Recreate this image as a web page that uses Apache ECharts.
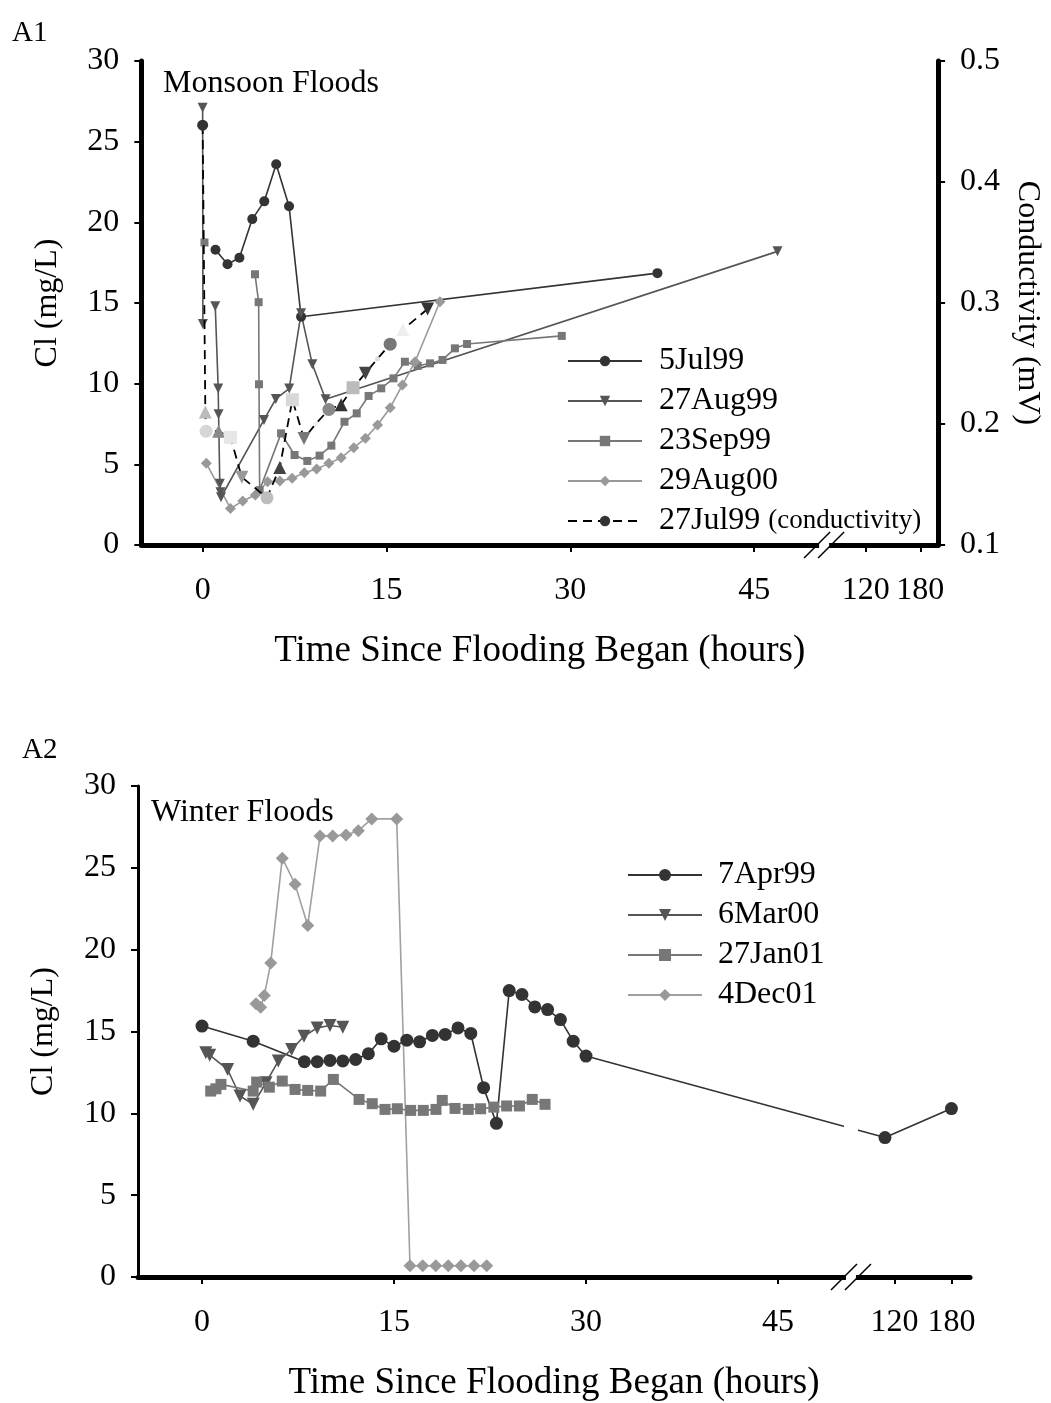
<!DOCTYPE html>
<html><head><meta charset="utf-8">
<script src="https://cdn.jsdelivr.net/npm/echarts@6/dist/echarts.min.js"></script>
<style>html,body{margin:0;padding:0;background:#fff}#c{width:1051px;height:1403px}</style>
</head><body><div id="c"></div>
<script>
// ================= DATA =================
// x tick labels (hours); the axis is broken between 45 and 120 hours
const xTickHours = [0, 15, 30, 45, 120, 180];

// ---- A1 : Monsoon floods (Cl, mg/L) ----
const jul5Hours  = [1.05, 2.03, 3.0, 4.05, 5.03, 6.0, 7.05, 8.03, 37.1];
const jul5Cl     = [18.3, 17.4, 17.8, 20.2, 21.3, 23.6, 21.0, 14.15, 16.85];

const aug27Hours = [0, 0.02, null, 1.03, 1.27, 1.3, 1.4, 1.45, 1.5, 5.0, 5.97, 7.06, 8.03, 8.95, 10.03, 46.9];
const aug27Cl    = [27.1, 13.7, null, 14.8, 9.7, 8.1, 3.8, 3.27, 2.96, 7.75, 9.05, 9.7, 14.36, 11.2, 9.03, 18.2];

const sep23Hours = [0.15, null, 4.27, 4.57, 4.6, 4.65, 6.4, 7.5, 8.54, 9.54, 10.5, 11.57, 12.57, 13.54, 14.57, 15.57, 16.5, 17.54, 18.55, 19.57, 20.58, 21.57, 29.3];
const sep23Cl    = [18.75, null, 16.78, 15.05, 9.96, 3.4, 6.92, 5.58, 5.21, 5.54, 6.16, 7.64, 8.16, 9.24, 9.71, 10.33, 11.36, 11.1, 11.26, 11.47, 12.19, 12.46, 12.96];

const aug29Hours = [0.3, 2.27, 3.27, 4.3, 5.3, 6.3, 7.3, 8.3, 9.3, 10.3, 11.3, 12.33, 13.28, 14.27, 15.3, 16.3, 17.33, 19.36];
const aug29Cl    = [5.06, 2.27, 2.73, 3.1, 3.92, 3.97, 4.13, 4.48, 4.71, 5.06, 5.41, 6.03, 6.61, 7.44, 8.51, 9.92, 11.36, 15.08];

// 27Jul99 conductivity (mV), right axis
const condHours = [0, 0.22, 0.28, 1.3, 2.27, 3.2, 5.25, 6.29, 7.32, 8.27, 9.22, 10.3, 11.3, 12.27, 13.28, 14.27, 15.3, 16.33, 18.35];
const condMV    = [0.447, 0.210, 0.194, 0.194, 0.189, 0.156, 0.139, 0.164, 0.220, 0.188, 0.200, 0.212, 0.216, 0.230, 0.242, 0.254, 0.266, 0.278, 0.295];

// ---- A2 : Winter floods (Cl, mg/L) ----
const apr7Hours = [0, 4, 8, 9, 10, 11, 12, 13, 14, 15, 16, 17, 18, 19, 20, 21, 22, 23, 24, 25, 26, 27, 28, 29, 30, 110, 180];
const apr7Cl    = [15.33, 14.41, 13.15, 13.15, 13.23, 13.2, 13.29, 13.64, 14.55, 14.1, 14.47, 14.37, 14.76, 14.82, 15.22, 14.88, 11.57, 9.39, 17.5, 17.26, 16.5, 16.34, 15.73, 14.41, 13.5, 8.52, 10.29];

const mar6Hours = [0.3, 0.6, 2.0, 2.97, 4.0, 5.0, 5.96, 7.0, 7.97, 9.0, 10.0, 11.0];
const mar6Cl    = [13.7, 13.55, 12.68, 11.06, 10.55, 11.87, 13.19, 13.9, 14.71, 15.22, 15.37, 15.26];

const jan27Hours = [0.68, 1.09, 1.48, 4.0, 4.27, 5.26, 6.27, 7.27, 8.26, 9.27, 10.26, 12.27, 13.3, 14.3, 15.26, 16.3, 17.29, 18.28, 18.77, 19.77, 20.8, 21.77, 22.8, 23.8, 24.8, 25.8, 26.8];
const jan27Cl    = [11.36, 11.5, 11.77, 11.36, 11.91, 11.6, 11.97, 11.46, 11.4, 11.36, 12.07, 10.85, 10.59, 10.24, 10.28, 10.18, 10.18, 10.24, 10.79, 10.3, 10.24, 10.28, 10.38, 10.45, 10.45, 10.85, 10.55];

const dec4Hours = [4.22, 4.58, 4.87, 5.37, 6.27, 7.27, 8.26, 9.22, 10.21, 11.25, 12.21, 13.26, 15.21, 16.25, 17.24, 18.26, 19.24, 20.23, 21.25, 22.24];
const dec4Cl    = [16.7, 16.48, 17.2, 19.19, 25.59, 24.0, 21.48, 26.95, 26.95, 27.01, 27.27, 27.99, 27.99, 0.69, 0.69, 0.69, 0.69, 0.69, 0.69, 0.69];

// ================= STYLE =================
const FONT = '"Liberation Serif","Times New Roman",serif';
// marker look of each conductivity point (Excel varied them point by point)
const condSymbols = ['circle','triangle','circle','triangle','rect','tridown','circle','triangle','rect','tridown','dot','circle','triangle','rect','tridown','dot','circle','triangle','tridown'];
const condColors  = ['#333','#bbb','#d6d6d6','#8a8a8a','#e6e6e6','#999','#bdbdbd','#444','#d8d8d8','#777','#eee','#888','#333','#bbb','#444','#ddd','#777','#eee','#333'];

// broken axis scale: linear up to 50 h, compressed after
const BREAK_END_LINEAR = 50, U120 = 54.1, U_PER_H_LATE = 4.45 / 60, BREAK_U = 50.7;
function toU(h){ return h <= BREAK_END_LINEAR ? h : U120 + (h - 120) * U_PER_H_LATE; }
const xTickU = xTickHours.map(toU);
function xLabel(v){ for (let i = 0; i < xTickU.length; i++) if (Math.abs(xTickU[i]-v) < 1e-6) return String(xTickHours[i]); return ''; }
function pts(hs, vs){ return hs.map((h, i) => h === null ? null : [toU(h), vs[i]]); }

function xAxisCfg(gi, gap){
  return {type:'value', gridIndex:gi, min:-5, max:60,
    axisLine:{show:true, onZero:false, lineStyle:{color:'#000', width:5}},
    axisTick:{show:true, customValues:xTickU, length:7, lineStyle:{color:'#000', width:2}},
    axisLabel:{show:true, customValues:xTickU, formatter:xLabel, fontSize:32, color:'#000', fontFamily:FONT, margin:30},
    splitLine:{show:false},
    name:'Time Since Flooding Began (hours)', nameLocation:'middle', nameGap:gap,
    nameTextStyle:{fontSize:37, fontFamily:FONT, color:'#000'}};
}
function yAxisCfg(gi, lw){
  return {type:'value', gridIndex:gi, min:0, max:30, interval:5,
    axisLine:{show:true, onZero:false, lineStyle:{color:'#000', width:lw}},
    axisTick:{show:true, length:7, lineStyle:{color:'#000', width:2}},
    axisLabel:{fontSize:32, color:'#000', fontFamily:FONT, margin:22},
    splitLine:{show:false},
    name:'Cl (mg/L)', nameLocation:'middle', nameGap:78, nameRotate:90,
    nameTextStyle:{fontSize:32, fontFamily:FONT, color:'#000'}};
}
function lineSeries(name, data, gi, color, lineColor, symbol, size){
  const rot = symbol === 'tridown' ? 180 : 0;
  return {type:'line', name, data, xAxisIndex:gi, yAxisIndex:gi === 0 ? 0 : 2,
    symbol: symbol === 'tridown' ? 'triangle' : symbol, symbolRotate:rot, symbolSize:size,
    showSymbol:true, connectNulls:false, animation:false,
    itemStyle:{color, borderWidth:0}, lineStyle:{color:lineColor, width:1.6}, z:3};
}

const condData = condHours.map((h, i) => {
  const s = condSymbols[i];
  return {value:[toU(h), condMV[i]],
    symbol: s === 'tridown' ? 'triangle' : (s === 'dot' ? 'circle' : s),
    symbolRotate: s === 'tridown' ? 180 : 0,
    symbolSize: s === 'dot' ? 5 : (i === 0 ? 11 : 13),
    itemStyle:{color:condColors[i]}};
});

const chart = echarts.init(document.getElementById('c'), null, {renderer:'canvas'});
const option = {
  backgroundColor:'#fff',
  animation:false,
  title:[
    {text:'A1', left:7, top:14, textStyle:{fontSize:29, fontWeight:'normal', fontFamily:FONT, color:'#000'}},
    {text:'Monsoon Floods', left:158, top:63, textStyle:{fontSize:32, fontWeight:'normal', fontFamily:FONT, color:'#000'}},
    {text:'A2', left:17, top:731, textStyle:{fontSize:29, fontWeight:'normal', fontFamily:FONT, color:'#000'}},
    {text:'Winter Floods', left:146, top:792, textStyle:{fontSize:32, fontWeight:'normal', fontFamily:FONT, color:'#000'}}
  ],
  grid:[
    {left:141.35, right:108.2, top:61, height:484},
    {left:138, right:81, top:786, height:492}
  ],
  xAxis:[xAxisCfg(0, 88), xAxisCfg(1, 88)],
  yAxis:[
    yAxisCfg(0, 5),
    {type:'value', gridIndex:0, position:'right', min:0.1, max:0.5, interval:0.1,
      axisLine:{show:true, onZero:false, lineStyle:{color:'#000', width:5}},
      axisTick:{show:true, length:7, lineStyle:{color:'#000', width:2}},
      axisLabel:{fontSize:32, color:'#000', fontFamily:FONT, margin:22, formatter:v => v.toFixed(1)},
      splitLine:{show:false},
      name:'Conductivity (mV)', nameLocation:'middle', nameGap:70, nameRotate:-90,
      nameTextStyle:{fontSize:32, fontFamily:FONT, color:'#000'}},
    yAxisCfg(1, 3)
  ],
  legend:[
    {orient:'vertical', left:562, top:340, itemWidth:74, itemHeight:13, itemGap:8,
      data:['5Jul99','27Aug99','23Sep99','29Aug00','27Jul99'],
      formatter: n => n === '27Jul99' ? '27Jul99 {s|(conductivity)}' : n,
      textStyle:{fontSize:32, lineHeight:32, fontFamily:FONT, color:'#000', padding:[0,0,0,12],
        rich:{s:{fontSize:27, fontFamily:FONT, color:'#000'}}}},
    {orient:'vertical', left:622, top:854, itemWidth:74, itemHeight:15, itemGap:8,
      data:['7Apr99','6Mar00','27Jan01','4Dec01'],
      textStyle:{fontSize:32, lineHeight:32, fontFamily:FONT, color:'#000', padding:[0,0,0,11]}}
  ],
  series:[
    lineSeries('5Jul99',  pts(jul5Hours, jul5Cl),   0, '#333', '#333', 'circle', 10),
    lineSeries('27Aug99', pts(aug27Hours, aug27Cl), 0, '#555', '#555', 'tridown', 10),
    lineSeries('23Sep99', pts(sep23Hours, sep23Cl), 0, '#777', '#777', 'rect', 8),
    lineSeries('29Aug00', pts(aug29Hours, aug29Cl), 0, '#999', '#999', 'diamond', 11),
    {type:'line', name:'27Jul99', data:condData, xAxisIndex:0, yAxisIndex:1,
      symbol:'circle', symbolSize:11, showSymbol:true, animation:false,
      itemStyle:{color:'#333'}, lineStyle:{color:'#000', width:1.8, type:[9,6]}, z:4},
    lineSeries('7Apr99',  pts(apr7Hours, apr7Cl),   1, '#333', '#333', 'circle', 13),
    lineSeries('6Mar00',  pts(mar6Hours, mar6Cl),   1, '#555', '#555', 'tridown', 13),
    lineSeries('27Jan01', pts(jan27Hours, jan27Cl), 1, '#777', '#777', 'rect', 11),
    lineSeries('4Dec01',  pts(dec4Hours, dec4Cl),   1, '#999', '#a0a0a0', 'diamond', 13)
  ]
};
chart.setOption(option);

// axis-break decorations
function breakMarks(gi, cutValue){
  const a = chart.convertToPixel({gridIndex:gi}, [BREAK_U, 0]);
  const els = [];
  if (cutValue !== null){
    const c = chart.convertToPixel({gridIndex:gi}, [BREAK_U, cutValue]);
    els.push({type:'rect', shape:{x:c[0]-7, y:c[1]-28, width:14, height:56}, style:{fill:'#fff'}, z:100});
  }
  els.push({type:'rect', shape:{x:a[0]-5, y:a[1]-4, width:10, height:8}, style:{fill:'#fff'}, z:100});
  [-7, 7].forEach(d => els.push({type:'line', shape:{x1:a[0]+d-13, y1:a[1]+13, x2:a[0]+d+13, y2:a[1]-13},
    style:{stroke:'#000', lineWidth:1.5}, z:101}));
  return els;
}
chart.setOption({graphic:{elements:[...breakMarks(0, null), ...breakMarks(1, 9)]}});
</script></body></html>
